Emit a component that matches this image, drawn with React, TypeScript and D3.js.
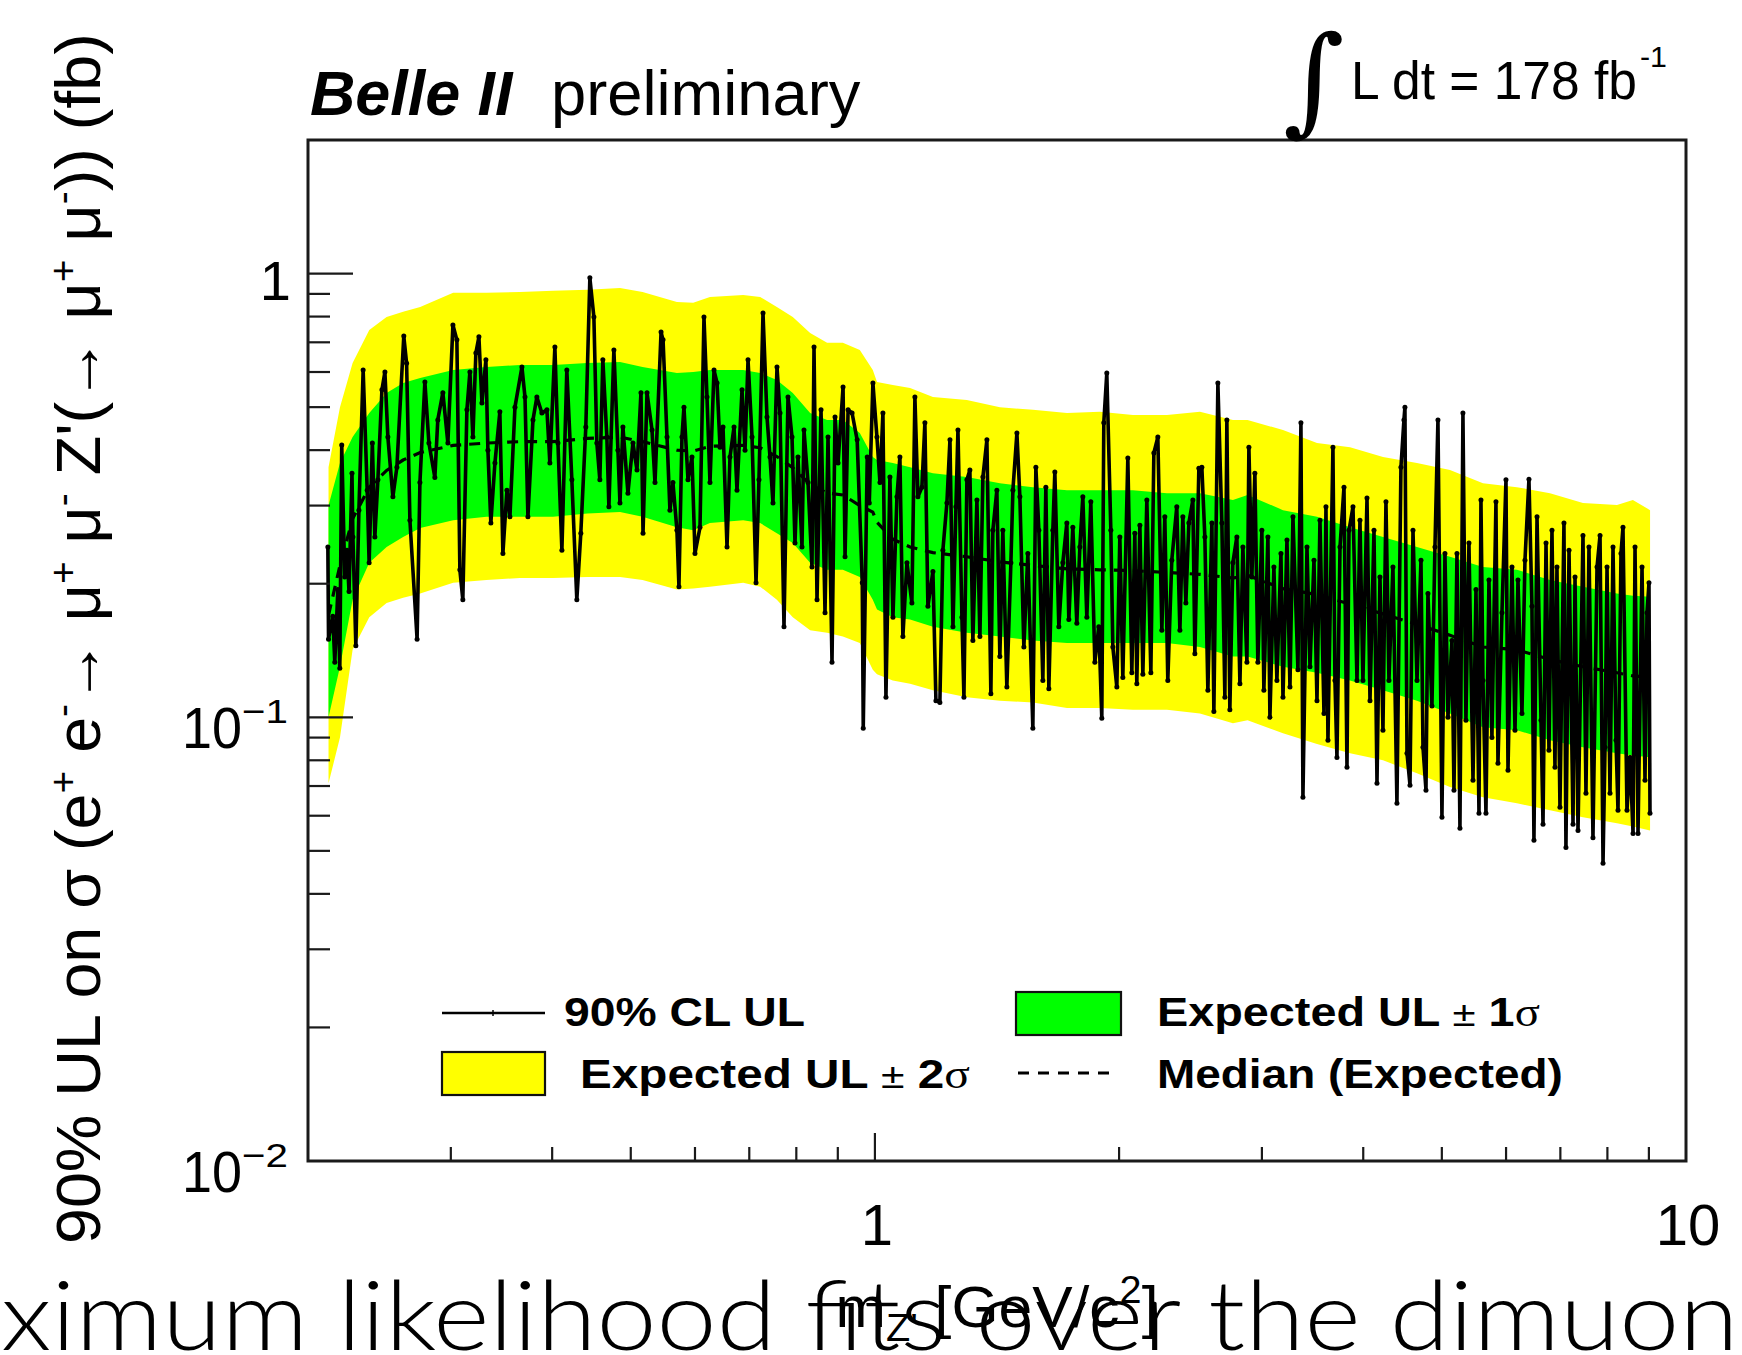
import React, { useEffect, useRef } from 'react';
import * as d3 from 'd3';

const W = 1742;
const H = 1355;
const X_DOMAIN = [0.2, 10];
const Y_DOMAIN = [0.01, 2];

const X_TICK_LABELS = [
  { v: 1, t: '1' },
  { v: 10, t: '10' },
];
const Y_TICK_LABELS = [
  { v: 1, base: '1', exp: '' },
  { v: 0.1, base: '10', exp: '\u22121' },
  { v: 0.01, base: '10', exp: '\u22122' },
];

// Expected-limit bands (fb) vs m_Z' (GeV/c^2)
const BAND_MASS = [0.212, 0.219, 0.227, 0.238, 0.25, 0.262, 0.275, 0.302, 0.332, 0.365,
  0.401, 0.442, 0.485, 0.517, 0.57, 0.597, 0.626, 0.688, 0.722, 0.757,
  0.792, 0.832, 0.873, 0.913, 0.958, 0.994, 1.006, 1.052, 1.105, 1.179,
  1.298, 1.426, 1.566, 1.725, 1.894, 2.08, 2.291, 2.516, 2.763, 2.88,
  3.185, 3.508, 3.853, 4.231, 4.659, 5.117, 5.619, 6.188, 6.797, 7.464,
  8.221, 8.6, 9.03];
const PLUS2 = [0.366, 0.5, 0.629, 0.746, 0.798, 0.82, 0.841, 0.905, 0.905, 0.909,
  0.915, 0.919, 0.928, 0.909, 0.863, 0.859, 0.886, 0.895, 0.886, 0.841,
  0.798, 0.735, 0.698, 0.698, 0.673, 0.606, 0.57, 0.561, 0.552, 0.527,
  0.519, 0.5, 0.493, 0.485, 0.488, 0.48, 0.48, 0.488, 0.468, 0.468,
  0.444, 0.415, 0.406, 0.386, 0.374, 0.361, 0.337, 0.33, 0.32, 0.304,
  0.301, 0.309, 0.293];
const PLUS1 = [0.3, 0.374, 0.428, 0.485, 0.538, 0.567, 0.582, 0.606, 0.616, 0.622,
  0.622, 0.629, 0.632, 0.616, 0.597, 0.6, 0.606, 0.606, 0.597, 0.576,
  0.538, 0.485, 0.468, 0.468, 0.437, 0.386, 0.38, 0.374, 0.366, 0.355,
  0.348, 0.337, 0.33, 0.325, 0.325, 0.325, 0.32, 0.32, 0.309, 0.317,
  0.293, 0.283, 0.268, 0.255, 0.242, 0.23, 0.218, 0.215, 0.204, 0.197,
  0.19, 0.188, 0.187];
const MINUS1 = [0.1, 0.13, 0.184, 0.223, 0.242, 0.255, 0.267, 0.278, 0.283, 0.283,
  0.283, 0.288, 0.29, 0.283, 0.268, 0.264, 0.274, 0.278, 0.274, 0.26,
  0.247, 0.223, 0.215, 0.215, 0.207, 0.184, 0.175, 0.168, 0.166, 0.16,
  0.155, 0.152, 0.149, 0.147, 0.147, 0.147, 0.147, 0.144, 0.137, 0.137,
  0.13, 0.126, 0.121, 0.115, 0.109, 0.102, 0.095, 0.0935, 0.0888, 0.0856,
  0.083, 0.082, 0.0813];
const MINUS2 = [0.071, 0.09, 0.142, 0.168, 0.181, 0.186, 0.19, 0.201, 0.204, 0.206,
  0.206, 0.207, 0.207, 0.204, 0.194, 0.195, 0.197, 0.201, 0.197, 0.184,
  0.168, 0.157, 0.155, 0.152, 0.147, 0.128, 0.125, 0.121, 0.119, 0.115,
  0.111, 0.109, 0.108, 0.105, 0.105, 0.104, 0.104, 0.102, 0.097, 0.0985,
  0.092, 0.087, 0.083, 0.08, 0.0748, 0.0696, 0.066, 0.064, 0.0617, 0.0595,
  0.0577, 0.0567, 0.0556];
const MEDIAN = [0.17, 0.22, 0.28, 0.33, 0.36, 0.38, 0.395, 0.41, 0.415, 0.418,
  0.418, 0.425, 0.428, 0.418, 0.4, 0.398, 0.408, 0.41, 0.405, 0.387,
  0.365, 0.335, 0.32, 0.317, 0.3, 0.29, 0.275, 0.252, 0.242, 0.235,
  0.23, 0.224, 0.22, 0.216, 0.215, 0.214, 0.212, 0.21, 0.206, 0.209,
  0.195, 0.189, 0.18, 0.171, 0.162, 0.153, 0.144, 0.142, 0.135, 0.13,
  0.126, 0.124, 0.123];

// Observed 90% CL UL (fb)
const OBS_MASS = [
  0.2116, 0.212, 0.2146, 0.2158, 0.2177, 0.2189, 0.2201, 0.222, 0.2234, 0.2247,
  0.2266, 0.2272, 0.2291, 0.2311, 0.2339, 0.2366, 0.2379, 0.2401, 0.2418, 0.2439,
  0.2467, 0.2488, 0.2509, 0.2545, 0.2574, 0.2625, 0.2646, 0.2671, 0.2726, 0.2748,
  0.2787, 0.2819, 0.2867, 0.2891, 0.2933, 0.2975, 0.3018, 0.3052, 0.3078, 0.3104,
  0.314, 0.3167, 0.3194, 0.3221, 0.3249, 0.3277, 0.3314, 0.3333, 0.3361, 0.34,
  0.3448, 0.3478, 0.3518, 0.3548, 0.3599, 0.3671, 0.3703, 0.3734, 0.3788, 0.383,
  0.3885, 0.3941, 0.3974, 0.4031, 0.4066, 0.4112, 0.417, 0.423, 0.429, 0.4339,
  0.4401, 0.4452, 0.4503, 0.4541, 0.458, 0.4619, 0.4672, 0.4699, 0.4766, 0.4821,
  0.4849, 0.489, 0.496, 0.5031, 0.5089, 0.5147, 0.5177, 0.5236, 0.5311, 0.5356,
  0.5449, 0.548, 0.5542, 0.5588, 0.5636, 0.57, 0.5733, 0.5782, 0.5815, 0.5882,
  0.5949, 0.6, 0.6086, 0.6155, 0.6208, 0.6261, 0.6333, 0.6388, 0.6442, 0.6497,
  0.6571, 0.6627, 0.6703, 0.676, 0.6857, 0.6916, 0.6975, 0.7055, 0.7135, 0.7195,
  0.7278, 0.7361, 0.7424, 0.7487, 0.7573, 0.7638, 0.7725, 0.7813, 0.7903, 0.797,
  0.8038, 0.813, 0.8176, 0.827, 0.8364, 0.8412, 0.8484, 0.8581, 0.8679, 0.8753,
  0.8853, 0.8929, 0.9006, 0.9135, 0.9187, 0.9266, 0.9372, 0.9508, 0.9647, 0.9674,
  0.9784, 0.9841, 0.9943, 1.0057, 1.0144, 1.023, 1.0318, 1.0435, 1.0525, 1.0645,
  1.0735, 1.0826, 1.0952,
  1.1107, 1.1202, 1.1298, 1.1427, 1.1524, 1.1623, 1.179, 1.1891, 1.2025, 1.2128,
  1.2267, 1.2374, 1.248, 1.2586, 1.2658, 1.2802, 1.2875, 1.2984, 1.3094, 1.3206,
  1.3358, 1.3472, 1.3587, 1.3742, 1.3898, 1.3977, 1.4137, 1.4257, 1.4379, 1.4543,
  1.4711, 1.4795, 1.4964, 1.5091, 1.5263, 1.5436, 1.5657, 1.5792, 1.5927, 1.6108,
  1.6246, 1.6385, 1.6571, 1.6666, 1.6856, 1.7048, 1.7243, 1.7341, 1.7539, 1.7739,
  1.7892, 1.8044, 1.825, 1.8458, 1.8669, 1.8881, 1.9043, 1.9151, 1.9315, 1.9538,
  1.9649, 1.9873, 2.0043, 2.0214, 2.0503, 2.0737, 2.0914, 2.1033, 2.1216, 2.1397,
  2.164, 2.1888, 2.2075, 2.2326, 2.2581, 2.2773, 2.2967, 2.3229, 2.356, 2.3768,
  2.397, 2.4175, 2.4382, 2.466, 2.48, 2.5084, 2.5298, 2.5514, 2.5734, 2.6028,
  2.6176, 2.6475, 2.6777, 2.7006, 2.7159, 2.7391, 2.7625, 2.7941, 2.8184, 2.8424,
  2.875, 2.8912, 2.9159, 2.9406, 2.9657,
  2.9997, 3.0168, 3.0515, 3.069, 3.1039, 3.1305, 3.1667, 3.1849, 3.2211, 3.2486,
  3.2764, 3.3231, 3.3515, 3.3706, 3.4095, 3.4387, 3.4779, 3.5077, 3.5375, 3.5779,
  3.5983, 3.6187, 3.6703, 3.6912, 3.7122, 3.7446, 3.7872, 3.8196, 3.8414, 3.8852,
  3.9297, 3.9628, 3.9966, 4.0429, 4.0774, 4.1239, 4.1592, 4.1945, 4.2303, 4.2664,
  4.3029, 4.3519, 4.4016, 4.4518, 4.4899, 4.5026, 4.529, 4.5678, 4.6068, 4.6596,
  4.7125, 4.7393, 4.7798, 4.8065, 4.8614, 4.903, 4.945, 5.0015, 5.0442, 5.0877,
  5.1459, 5.1752, 5.2193, 5.2637, 5.3086, 5.354, 5.3999, 5.4623, 5.5088, 5.5558,
  5.5873, 5.6191, 5.667, 5.7154, 5.7641, 5.8302, 5.8634, 5.9306, 5.9985, 6.033,
  6.1019, 6.154, 6.2063, 6.277, 6.3307, 6.4028, 6.4575, 6.4943, 6.5511, 6.6257,
  6.6635, 6.7204, 6.7772, 6.8353, 6.8935, 6.9326, 6.9919, 7.0716, 7.1118, 7.1741,
  7.256, 7.2973, 7.3595, 7.4643, 7.5276, 7.5922, 7.679, 7.7676, 7.8343, 7.9012,
  7.9463, 7.9916, 8.0594, 8.1283, 8.1978, 8.2443, 8.3145, 8.3618, 8.4573, 8.531,
  8.604, 8.6525, 8.7265, 8.8261, 8.901, 8.9517, 9.0026, 9.0282,
];
const OBS_UL = [
  0.242, 0.15, 0.169, 0.133, 0.194, 0.129, 0.411, 0.207, 0.238, 0.192,
  0.355, 0.255, 0.145, 0.293, 0.606, 0.325, 0.223, 0.415, 0.255, 0.343,
  0.547, 0.6, 0.428, 0.314, 0.366, 0.723, 0.628, 0.278, 0.15, 0.338,
  0.57, 0.415, 0.347, 0.468, 0.539, 0.415, 0.766, 0.709, 0.215, 0.184,
  0.493, 0.6, 0.428, 0.662, 0.72, 0.511, 0.639, 0.4, 0.274, 0.374,
  0.488, 0.234, 0.325, 0.283, 0.5, 0.616, 0.527, 0.283, 0.468, 0.527,
  0.485, 0.493, 0.374, 0.683, 0.415, 0.238, 0.606, 0.343, 0.184, 0.26,
  0.451, 0.978, 0.798, 0.415, 0.343, 0.639, 0.428, 0.298, 0.673, 0.4,
  0.304, 0.451, 0.32, 0.415, 0.361, 0.539, 0.26, 0.539, 0.444, 0.338,
  0.738, 0.709, 0.428, 0.293, 0.338, 0.264, 0.197, 0.428, 0.5, 0.343,
  0.386, 0.234, 0.268, 0.798, 0.527, 0.338, 0.606, 0.567, 0.406, 0.451,
  0.242, 0.386, 0.451, 0.325, 0.547, 0.4, 0.639, 0.428, 0.201, 0.343,
  0.815, 0.475, 0.386, 0.304, 0.616, 0.485, 0.16, 0.527, 0.428, 0.247,
  0.386, 0.242, 0.444, 0.338, 0.218, 0.683, 0.184, 0.493, 0.172, 0.428,
  0.133, 0.475, 0.374, 0.555, 0.23, 0.493, 0.485, 0.422, 0.201, 0.0945,
  0.386, 0.304, 0.567, 0.428, 0.338, 0.485, 0.111, 0.348, 0.168, 0.314,
  0.386, 0.152, 0.223,
  0.181, 0.527, 0.314, 0.33, 0.461, 0.178, 0.213, 0.109, 0.108, 0.238,
  0.304, 0.422, 0.16, 0.298, 0.444, 0.168, 0.111, 0.343, 0.361, 0.149,
  0.309, 0.152, 0.348, 0.422, 0.113, 0.264, 0.325, 0.137, 0.264, 0.117,
  0.223, 0.325, 0.437, 0.314, 0.144, 0.234, 0.0945, 0.366, 0.264, 0.121,
  0.33, 0.116, 0.264, 0.357, 0.16, 0.223, 0.274, 0.166, 0.268, 0.163,
  0.242, 0.314, 0.168, 0.306, 0.133, 0.16, 0.0995, 0.461, 0.597, 0.264,
  0.144, 0.117, 0.255, 0.123, 0.384, 0.126, 0.26, 0.119, 0.271, 0.125,
  0.309, 0.126, 0.394, 0.428, 0.157, 0.283, 0.121, 0.226, 0.298, 0.157,
  0.283, 0.181, 0.274, 0.309, 0.139, 0.364, 0.366, 0.255, 0.115, 0.274,
  0.103, 0.567, 0.274, 0.111, 0.468, 0.104, 0.223, 0.255, 0.119, 0.242,
  0.133, 0.406, 0.207, 0.355, 0.133,
  0.264, 0.115, 0.255, 0.1, 0.218, 0.121, 0.234, 0.111, 0.251, 0.117,
  0.283, 0.128, 0.461, 0.066, 0.242, 0.13, 0.226, 0.109, 0.278, 0.102,
  0.298, 0.0888, 0.406, 0.121, 0.0812, 0.242, 0.33, 0.0772, 0.264, 0.298,
  0.121, 0.278, 0.121, 0.312, 0.109, 0.264, 0.071, 0.207, 0.0935, 0.306,
  0.121, 0.218, 0.064, 0.366, 0.468, 0.5, 0.083, 0.0703, 0.264, 0.121,
  0.226, 0.0856, 0.0685, 0.19, 0.106, 0.242, 0.468, 0.0595, 0.234, 0.1,
  0.149, 0.0685, 0.234, 0.0562, 0.485, 0.0985, 0.247, 0.0721, 0.194, 0.0608,
  0.309, 0.121, 0.0608, 0.204, 0.09, 0.306, 0.0788, 0.172, 0.343, 0.076,
  0.218, 0.0935, 0.204, 0.102, 0.226, 0.344, 0.178, 0.0528, 0.283, 0.0985,
  0.0574, 0.247, 0.0843, 0.264, 0.0772, 0.218, 0.0627, 0.274, 0.0509, 0.238,
  0.0574, 0.207, 0.0556, 0.257, 0.0674, 0.242, 0.0535, 0.218, 0.257, 0.0469,
  0.0856, 0.218, 0.0674, 0.242, 0.0888, 0.0617, 0.234, 0.268, 0.0617, 0.0812,
  0.0547, 0.242, 0.0547, 0.218, 0.0721, 0.172, 0.201, 0.0608,
];

const FONT = "'Liberation Sans', Arial, Helvetica, sans-serif";

type Seg = { t: string; size?: number; dy?: number; weight?: string; family?: string; style?: string };

function addText(g: any, segs: Seg[], o: any) {
  const t = g.append('text')
    .attr('font-family', o.family || FONT)
    .attr('font-size', o.size)
    .attr('text-anchor', o.anchor || 'start')
    .attr('fill', '#000')
    .style('white-space', 'pre');
  if (o.weight) t.attr('font-weight', o.weight);
  if (o.style) t.attr('font-style', o.style);
  segs.forEach((s) => {
    const ts = t.append('tspan').text(s.t);
    if (s.size) ts.attr('font-size', s.size);
    if (s.dy) ts.attr('dy', s.dy);
    if (s.weight) ts.attr('font-weight', s.weight);
    if (s.family) ts.attr('font-family', s.family);
    if (s.style) ts.attr('font-style', s.style);
  });
  let sx = 1;
  if (o.w) {
    const bb = t.node().getBBox();
    if (bb.width > 0) sx = o.w / bb.width;
  }
  const sy = o.sy || 1;
  t.attr('transform', `translate(${o.x},${o.y})${o.rot ? ` rotate(${o.rot})` : ''} scale(${sx},${sy})`);
  return t;
}

export default function App() {
  const ref = useRef<SVGSVGElement>(null);

  useEffect(() => {
    const svg = d3.select(ref.current);
    svg.selectAll('*').remove();

    const L = 308, R = 1686, T = 140, B = 1161;
    const x = d3.scaleLog().domain(X_DOMAIN).range([L, R]);
    const y = d3.scaleLog().domain(Y_DOMAIN).range([B, T]);

    svg.append('rect').attr('width', W).attr('height', H).attr('fill', '#fff');
    svg.append('defs').append('clipPath').attr('id', 'plotclip')
      .append('rect').attr('x', L).attr('y', T).attr('width', R - L).attr('height', B - T);

    const plot = svg.append('g').attr('clip-path', 'url(#plotclip)');
    const idx = d3.range(BAND_MASS.length);
    const band = (hi: number[], lo: number[]) => d3.area<number>()
      .x((i) => x(BAND_MASS[i]))
      .y0((i) => y(lo[i]))
      .y1((i) => y(hi[i]));
    plot.append('path').datum(idx).attr('d', band(PLUS2, MINUS2)).attr('fill', '#ffff00');
    plot.append('path').datum(idx).attr('d', band(PLUS1, MINUS1)).attr('fill', '#00ff00');

    const medLine = d3.line<number>().x((i) => x(BAND_MASS[i])).y((i) => y(MEDIAN[i]));
    plot.append('path').datum(idx).attr('d', medLine).attr('fill', 'none')
      .attr('stroke', '#000').attr('stroke-width', 3.2).attr('stroke-dasharray', '11 8');

    const n = Math.min(OBS_MASS.length, OBS_UL.length);
    const oIdx = d3.range(n);
    const obsLine = d3.line<number>().x((i) => x(OBS_MASS[i])).y((i) => y(OBS_UL[i]));
    plot.append('path').datum(oIdx).attr('d', obsLine).attr('fill', 'none')
      .attr('stroke', '#000').attr('stroke-width', 3.6).attr('stroke-linejoin', 'round');
    plot.append('g').selectAll('circle').data(oIdx).join('circle')
      .attr('cx', (i) => x(OBS_MASS[i])).attr('cy', (i) => y(OBS_UL[i]))
      .attr('r', 2.5).attr('fill', '#000');

    // frame
    svg.append('rect').attr('x', L).attr('y', T).attr('width', R - L).attr('height', B - T)
      .attr('fill', 'none').attr('stroke', '#1a1a1a').attr('stroke-width', 3);

    // y ticks
    const yt = y.ticks().filter((v) => v < 1.9);
    svg.append('g').selectAll('line').data(yt).join('line')
      .attr('x1', L).attr('x2', (v) => L + (Math.abs(Math.log10(v) - Math.round(Math.log10(v))) < 1e-6 ? 45 : 22))
      .attr('y1', (v) => y(v)).attr('y2', (v) => y(v))
      .attr('stroke', '#1a1a1a').attr('stroke-width', 2.2);
    // x ticks
    const xt = x.ticks().filter((v) => v > 0.21 && v < 9.9);
    svg.append('g').selectAll('line').data(xt).join('line')
      .attr('x1', (v) => x(v)).attr('x2', (v) => x(v))
      .attr('y1', B).attr('y2', (v) => B - (Math.abs(Math.log10(v) - Math.round(Math.log10(v))) < 1e-6 ? 28 : 14))
      .attr('stroke', '#1a1a1a').attr('stroke-width', 2.2);

    const g = svg.append('g');
    // y tick labels
    Y_TICK_LABELS.forEach((d) => {
      if (!d.exp) {
        addText(g, [{ t: d.base }], { x: 291, y: y(d.v) + 26, size: 56, anchor: 'end' });
      } else {
        addText(g, [{ t: d.base }], { x: 182, y: y(d.v) + 31, size: 57, w: 60 });
        addText(g, [{ t: d.exp }], { x: 242, y: y(d.v) + 6, size: 34, w: 46 });
      }
    });
    // x tick labels
    X_TICK_LABELS.forEach((d) => {
      addText(g, [{ t: d.t }], { x: x(d.v) + 2, y: 1245, size: 58, anchor: 'middle' });
    });

    // x title
    addText(g, [
      { t: 'm' },
      { t: "Z'", size: 38, dy: 14 },
      { t: ' [GeV/c', dy: -14 },
      { t: '2', size: 38, dy: -24 },
      { t: ']', dy: 24 },
    ], { x: 997, y: 1327, size: 58, anchor: 'middle', w: 323 });

    // y title
    const sup = (s: string): Seg => ({ t: s, size: 38, dy: -24 });
    addText(g, [
      { t: '90% UL on \u03c3 (e' }, sup('+'), { t: ' e', dy: 24 }, sup('-'),
      { t: '\u2192 \u03bc', dy: 24 }, sup('+'), { t: ' \u03bc', dy: 24 }, sup('-'),
      { t: " Z'(\u2192 \u03bc", dy: 24 }, sup('+'), { t: ' \u03bc', dy: 24 }, sup('-'),
      { t: ')) (fb)', dy: 24 },
    ], { x: 100, y: 1244, size: 63, rot: -90, w: 1211 });

    // header texts
    addText(g, [{ t: 'Belle II' }], { x: 310, y: 115, size: 63, weight: 'bold', style: 'italic', w: 204 });
    addText(g, [{ t: 'preliminary' }], { x: 551, y: 115, size: 63, w: 310 });
    addText(g, [{ t: '\u222b' }], { x: 1283, y: 120, size: 118, family: "'DejaVu Serif', 'Liberation Serif', serif" });
    addText(g, [{ t: 'L dt = 178 fb' }], { x: 1351, y: 99, size: 54, w: 286 });
    addText(g, [{ t: '-1' }], { x: 1640, y: 67, size: 30, w: 27 });

    // legend
    const lg = svg.append('g');
    lg.append('line').attr('x1', 442).attr('x2', 545).attr('y1', 1013).attr('y2', 1013)
      .attr('stroke', '#000').attr('stroke-width', 2.4);
    lg.append('line').attr('x1', 493).attr('x2', 493).attr('y1', 1010).attr('y2', 1016)
      .attr('stroke', '#000').attr('stroke-width', 1.5);
    lg.append('rect').attr('x', 1016).attr('y', 992).attr('width', 105).attr('height', 43)
      .attr('fill', '#00ff00').attr('stroke', '#111').attr('stroke-width', 2.2);
    lg.append('rect').attr('x', 442).attr('y', 1052).attr('width', 103).attr('height', 43)
      .attr('fill', '#ffff00').attr('stroke', '#111').attr('stroke-width', 2.2);
    lg.append('line').attr('x1', 1018).attr('x2', 1115).attr('y1', 1073).attr('y2', 1073)
      .attr('stroke', '#000').attr('stroke-width', 3).attr('stroke-dasharray', '11 9');

    addText(lg, [{ t: '90% CL UL' }], { x: 564, y: 1026, size: 40, weight: 'bold', w: 241 });
    addText(lg, [
      { t: 'Expected UL ' }, { t: '\u00b1', weight: 'normal', size: 36 }, { t: ' 1' },
      { t: '\u03c3', weight: 'normal', family: "'Liberation Serif', serif" },
    ], { x: 1157, y: 1026, size: 40, weight: 'bold', w: 383 });
    addText(lg, [
      { t: 'Expected UL ' }, { t: '\u00b1', weight: 'normal', size: 36 }, { t: ' 2' },
      { t: '\u03c3', weight: 'normal', family: "'Liberation Serif', serif" },
    ], { x: 580, y: 1088, size: 40, weight: 'bold', w: 390 });
    addText(lg, [{ t: 'Median (Expected)' }], { x: 1157, y: 1088, size: 40, weight: 'bold', w: 406 });

    // caption text bleeding in at the bottom of the crop
    addText(svg, [{ t: 'ximum likelihood fits over the dimuon' }],
      { x: 1, y: 1350, size: 96, family: "Lato, 'Open Sans', sans-serif", weight: '300', w: 1738 });
  }, []);

  return (
    <svg ref={ref} width={W} height={H}
      style={{ position: 'absolute', left: 0, top: 0, display: 'block', background: '#fff' }} />
  );
}
